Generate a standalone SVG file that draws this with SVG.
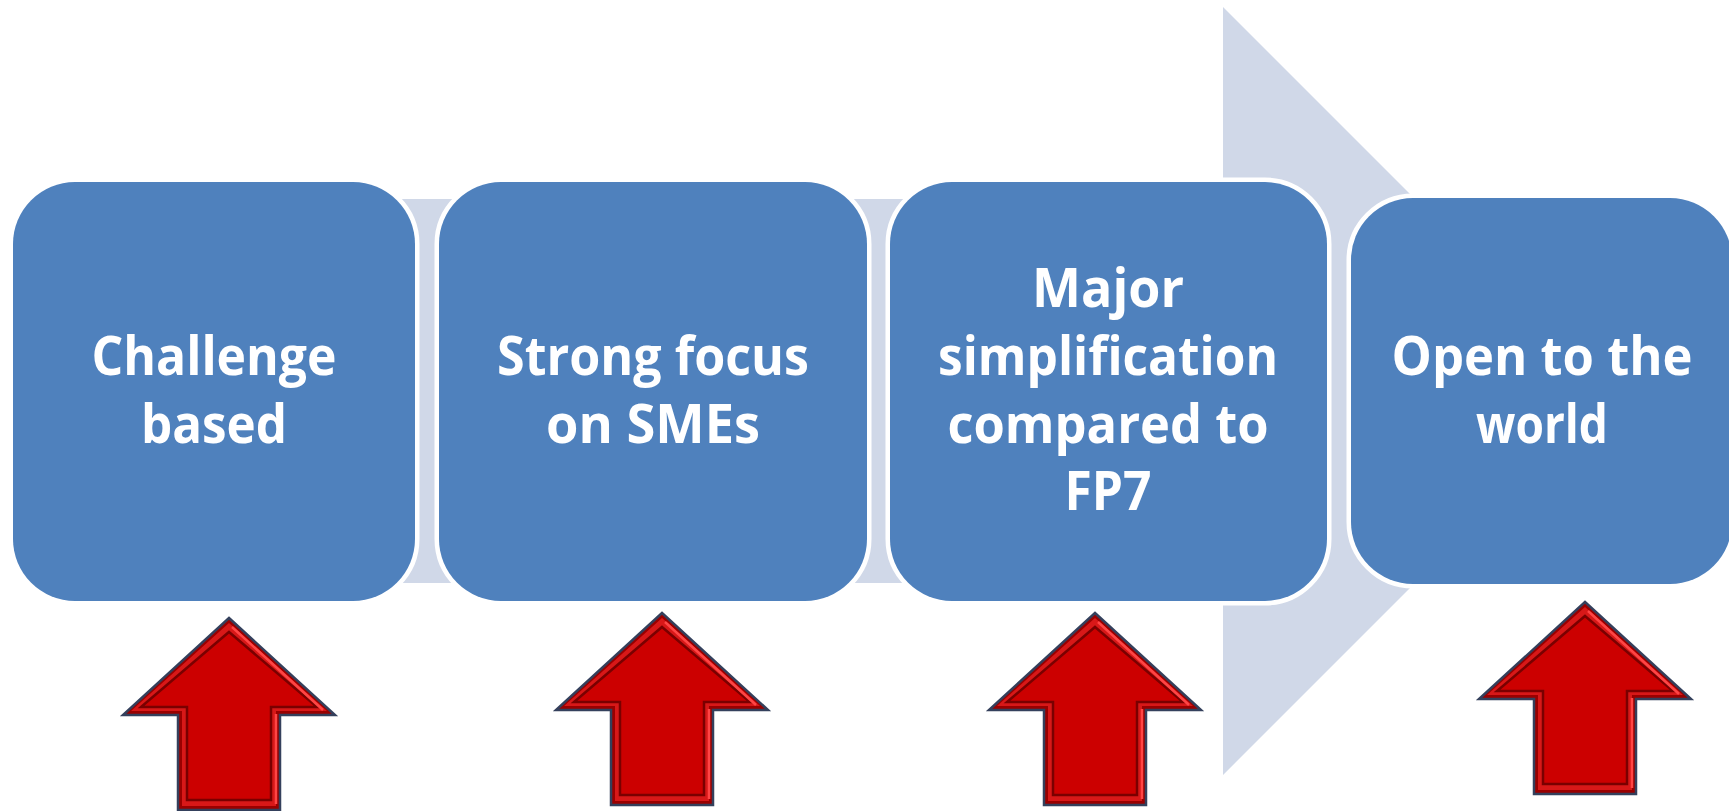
<svg xmlns="http://www.w3.org/2000/svg" width="1729" height="811" viewBox="0 0 1729 811">
<defs>
<style>
.box{fill:#4F81BD;stroke:#FFFFFF;stroke-width:9;paint-order:stroke}
.t{fill:#FFFFFF;font-family:"Open Sans","Noto Sans","Liberation Sans",sans-serif;font-weight:bold;font-size:54px;text-anchor:middle}
.aout{fill:#9A0000;stroke:#34405C;stroke-width:2.5;stroke-linejoin:miter}
.amid{fill:#D81818}
.ain{fill:#CC0000;stroke:#7A0000;stroke-width:2.5}
.ahi{fill:none;stroke:#FF4545;stroke-width:2.5}
</style>
<g id="redArrow">
<path class="aout" d="M0,0 L106,97 L51,97 L51,192 L-51,192 L-51,97 L-106,97 Z"/>
<path class="amid" d="M0,5 L98,93 L47,93 L47,188 L-47,188 L-47,93 L-98,93 Z"/>
<path class="ain" d="M0,14 L88,89 L42,89 L42,182 L-42,182 L-42,89 L-88,89 Z"/>
<path class="ahi" d="M3,9 L94,92 M47,96 L47,186"/>
</g>
</defs>
<rect width="1729" height="811" fill="#FFFFFF"/>
<g id="connectors">
<polygon points="40,199 1223,199 1223,7 1607,391 1223,775 1223,583 40,583" fill="#D0D8E8"/>
</g>
<g id="node1">
<rect class="box" x="13" y="182" width="402" height="419" rx="62" ry="62"/>
<text class="t" x="214" y="375" textLength="245" lengthAdjust="spacingAndGlyphs">Challenge</text>
<text class="t" x="214" y="443" textLength="146" lengthAdjust="spacingAndGlyphs">based</text>
</g>
<g id="node2">
<rect class="box" x="439" y="182" width="428" height="419" rx="62" ry="62"/>
<text class="t" x="653" y="375" textLength="312" lengthAdjust="spacingAndGlyphs">Strong focus</text>
<text class="t" x="653" y="443" textLength="214" lengthAdjust="spacingAndGlyphs">on SMEs</text>
</g>
<g id="node3">
<rect class="box" x="890" y="182" width="437" height="419" rx="62" ry="62"/>
<text class="t" x="1108" y="307" textLength="152" lengthAdjust="spacingAndGlyphs">Major</text>
<text class="t" x="1108" y="375" textLength="340" lengthAdjust="spacingAndGlyphs">simplification</text>
<text class="t" x="1108" y="443" textLength="321" lengthAdjust="spacingAndGlyphs">compared to</text>
<text class="t" x="1108" y="510" textLength="87" lengthAdjust="spacingAndGlyphs">FP7</text>
</g>
<g id="node4">
<rect class="box" x="1351" y="198" width="381" height="386" rx="62" ry="62"/>
<text class="t" x="1542" y="375" textLength="301" lengthAdjust="spacingAndGlyphs">Open to the</text>
<text class="t" x="1542" y="443" textLength="132" lengthAdjust="spacingAndGlyphs">world</text>
</g>
<g id="arrow1"><use href="#redArrow" transform="translate(229,618)"/></g>
<g id="arrow2"><use href="#redArrow" transform="translate(662,613)"/></g>
<g id="arrow3"><use href="#redArrow" transform="translate(1095,613)"/></g>
<g id="arrow4"><use href="#redArrow" transform="translate(1585,602)"/></g>
</svg>
